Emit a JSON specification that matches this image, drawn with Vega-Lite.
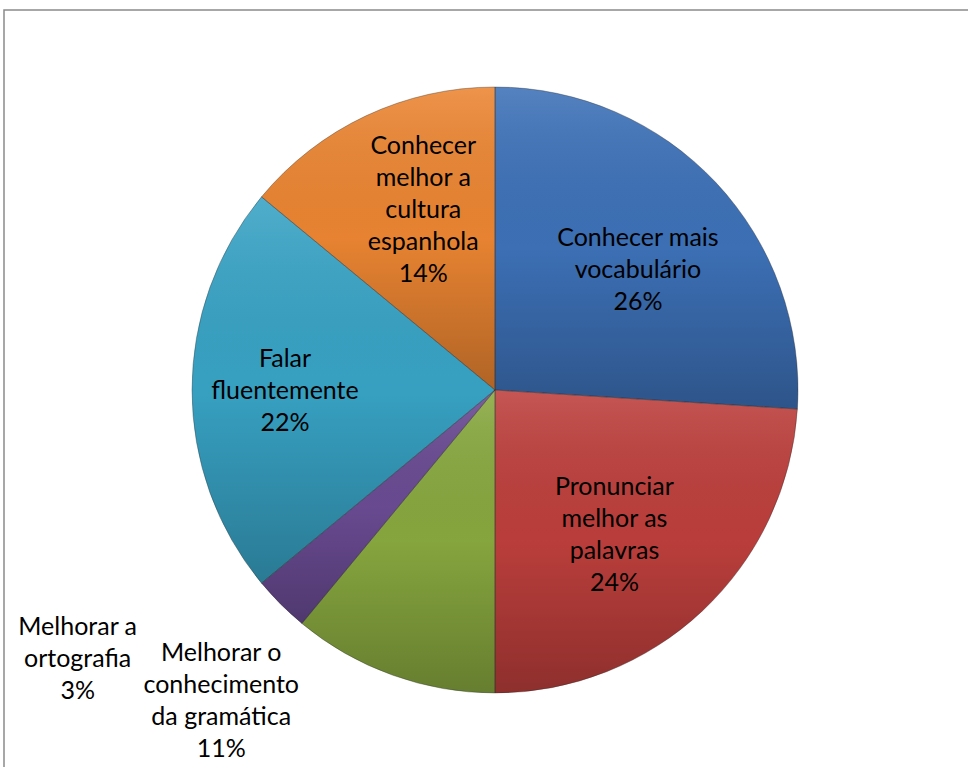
{
  "$schema": "https://vega.github.io/schema/vega-lite/v6.json",
  "width": 982,
  "height": 760,
  "autosize": {"type": "none"},
  "padding": {"left": 4, "top": 10, "right": 0, "bottom": 0},
  "background": "white",
  "view": {"stroke": "#8a8a8a", "strokeWidth": 1.5, "fill": "white"},
  "data": {
    "values": [
      {"ord": 1, "name": "Conhecer mais vocabulário", "v": 26, "label": "Conhecer mais\nvocabulário\n26%"},
      {"ord": 2, "name": "Pronunciar melhor as palavras", "v": 24, "label": "Pronunciar\nmelhor as\npalavras\n24%"},
      {"ord": 3, "name": "Melhorar o conhecimento da gramática", "v": 11, "label": "Melhorar o\nconhecimento\nda gramática\n11%"},
      {"ord": 4, "name": "Melhorar a ortografia", "v": 3, "label": "Melhorar a\nortografia\n3%"},
      {"ord": 5, "name": "Falar fluentemente", "v": 22, "label": "Falar\nfluentemente\n22%"},
      {"ord": 6, "name": "Conhecer melhor a cultura espanhola", "v": 14, "label": "Conhecer\nmelhor a\ncultura\nespanhola\n14%"}
    ]
  },
  "encoding": {
    "theta": {"field": "v", "type": "quantitative", "stack": true},
    "order": {"field": "ord", "type": "quantitative"}
  },
  "layer": [
    {
      "mark": {"type": "arc", "outerRadius": 303},
      "encoding": {
        "color": {
          "field": "name",
          "type": "nominal",
          "legend": null,
          "scale": {
            "domain": ["Conhecer mais vocabulário", "Pronunciar melhor as palavras", "Melhorar o conhecimento da gramática", "Melhorar a ortografia", "Falar fluentemente", "Conhecer melhor a cultura espanhola"],
            "range": ["#3D71B8", "#BD3F3C", "#88A83F", "#6A4B93", "#38A3C5", "#EB8532"]
          }
        }
      }
    },
    {
      "mark": {
        "type": "arc",
        "outerRadius": 303,
        "stroke": "#2a2a2a",
        "strokeOpacity": 0.35,
        "strokeWidth": 1,
        "color": {"gradient": "linear", "x1": 0, "y1": 0, "x2": 0, "y2": 1, "stops": [{"offset": 0, "color": "rgba(255,255,255,0.12)"}, {"offset": 0.5, "color": "rgba(0,0,0,0.02)"}, {"offset": 1, "color": "rgba(0,0,0,0.25)"}]}
      },
      "encoding": {}
    },
    {
      "mark": {"type": "text", "radius": 192, "dx": 3, "dy": -21, "font": "Lato", "fontSize": 25, "lineHeight": 32, "lineBreak": "\n", "align": "center", "baseline": "middle", "fill": "#000000"},
      "encoding": {"text": {"condition": {"test": "datum.ord === 1", "field": "label"}, "value": ""}}
    },
    {
      "mark": {"type": "text", "radius": 192, "dx": -12, "dy": -43, "font": "Lato", "fontSize": 25, "lineHeight": 32, "lineBreak": "\n", "align": "center", "baseline": "middle", "fill": "#000000"},
      "encoding": {"text": {"condition": {"test": "datum.ord === 2", "field": "label"}, "value": ""}}
    },
    {
      "mark": {"type": "text", "radius": 330, "dx": -162, "dy": -47, "font": "Lato", "fontSize": 25, "lineHeight": 32, "lineBreak": "\n", "align": "center", "baseline": "middle", "fill": "#000000"},
      "encoding": {"text": {"condition": {"test": "datum.ord === 3", "field": "label"}, "value": ""}}
    },
    {
      "mark": {"type": "text", "radius": 330, "dx": -184, "dy": 4, "font": "Lato", "fontSize": 25, "lineHeight": 32, "lineBreak": "\n", "align": "center", "baseline": "middle", "fill": "#000000"},
      "encoding": {"text": {"condition": {"test": "datum.ord === 4", "field": "label"}, "value": ""}}
    },
    {
      "mark": {"type": "text", "radius": 192, "dx": -18, "dy": -31, "font": "Lato", "fontSize": 25, "lineHeight": 32, "lineBreak": "\n", "align": "center", "baseline": "middle", "fill": "#000000"},
      "encoding": {"text": {"condition": {"test": "datum.ord === 5", "field": "label"}, "value": ""}}
    },
    {
      "mark": {"type": "text", "radius": 192, "dx": 10, "dy": -70, "font": "Lato", "fontSize": 25, "lineHeight": 32, "lineBreak": "\n", "align": "center", "baseline": "middle", "fill": "#000000"},
      "encoding": {"text": {"condition": {"test": "datum.ord === 6", "field": "label"}, "value": ""}}
    }
  ]
}
